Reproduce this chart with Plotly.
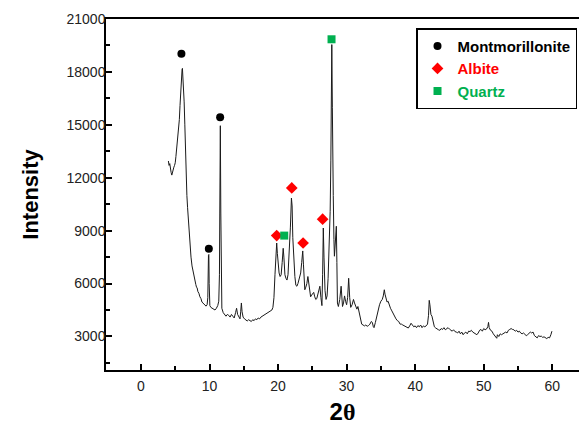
import plotly.graph_objects as go

# XRD pattern (2θ, intensity)
two_theta = [
    4.0, 4.1, 4.2, 4.3, 4.4, 4.5, 4.6, 4.7, 4.8, 4.9, 5.0, 5.1, 5.2, 5.3, 5.4, 5.5, 5.6, 5.7, 5.8, 5.9,
    6.0, 6.05, 6.1, 6.2, 6.3, 6.4, 6.5, 6.6, 6.7, 6.8, 6.9, 7.0, 7.15, 7.3, 7.45, 7.6, 7.8, 8.0, 8.1, 8.2,
    8.3, 8.45, 8.6, 8.75, 8.9, 9.05, 9.2, 9.35, 9.5, 9.65, 9.75, 9.85, 9.9, 9.95, 10.05, 10.2, 10.4, 10.6, 10.8, 11.0,
    11.2, 11.35, 11.45, 11.5, 11.58, 11.65, 11.72, 11.8, 12.0, 12.2, 12.4, 12.6, 12.8, 13.0, 13.2, 13.4, 13.6, 13.8, 13.95, 14.1,
    14.3, 14.45, 14.55, 14.65, 14.75, 14.9, 15.1, 15.3, 15.5, 15.7, 15.9, 16.1, 16.3, 16.5, 16.7, 16.9, 17.1, 17.3, 17.5, 17.7,
    17.9, 18.1, 18.3, 18.5, 18.7, 18.9, 19.1, 19.25, 19.4, 19.55, 19.7, 19.8, 19.9, 20.0, 20.15, 20.3, 20.45, 20.6, 20.75, 20.85,
    21.0, 21.15, 21.3, 21.45, 21.6, 21.8, 21.95, 22.05, 22.15, 22.3, 22.45, 22.6, 22.75, 22.9, 23.1, 23.3, 23.45, 23.6, 23.7, 23.8,
    23.9, 24.05, 24.2, 24.35, 24.45, 24.6, 24.75, 24.9, 25.05, 25.2, 25.35, 25.5, 25.65, 25.8, 25.95, 26.1, 26.25, 26.4, 26.5, 26.6,
    26.7, 26.85, 27.0, 27.15, 27.3, 27.45, 27.6, 27.7, 27.84, 27.92, 27.98, 28.05, 28.15, 28.22, 28.35, 28.5, 28.58, 28.66, 28.8, 29.0,
    29.2, 29.3, 29.4, 29.55, 29.7, 29.85, 30.0, 30.15, 30.3, 30.45, 30.6, 30.8, 31.0, 31.15, 31.3, 31.5, 31.65, 31.8, 32.0, 32.1,
    32.2, 32.4, 32.6, 32.8, 33.0, 33.2, 33.4, 33.6, 33.75, 33.9, 34.0, 34.2, 34.4, 34.6, 34.8, 35.0, 35.2, 35.35, 35.5, 35.6,
    35.75, 35.9, 36.05, 36.2, 36.4, 36.6, 36.8, 37.0, 37.2, 37.4, 37.6, 37.8, 38.0, 38.2, 38.4, 38.6, 38.8, 39.0, 39.2, 39.4,
    39.6, 39.8, 40.0, 40.2, 40.4, 40.6, 40.8, 41.0, 41.2, 41.4, 41.6, 41.8, 41.95, 42.05, 42.15, 42.3, 42.45, 42.6, 42.8, 43.0,
    43.2, 43.4, 43.6, 43.8, 44.0, 44.2, 44.4, 44.6, 44.8, 45.0, 45.2, 45.4, 45.6, 45.8, 46.0, 46.2, 46.4, 46.6, 46.8, 47.0,
    47.2, 47.4, 47.6, 47.8, 48.0, 48.2, 48.4, 48.6, 48.8, 49.0, 49.2, 49.4, 49.6, 49.8, 50.0, 50.2, 50.4, 50.6, 50.7, 50.8,
    51.0, 51.2, 51.4, 51.6, 51.8, 51.9, 52.0, 52.2, 52.4, 52.6, 52.8, 53.0, 53.2, 53.4, 53.6, 53.8, 54.0, 54.2, 54.4, 54.6,
    54.8, 55.0, 55.2, 55.4, 55.6, 55.8, 56.0, 56.2, 56.4, 56.6, 56.8, 57.0, 57.2, 57.4, 57.6, 57.8, 58.0, 58.2, 58.4, 58.6,
    58.8, 59.0, 59.2, 59.4, 59.6, 59.8, 59.95,
]
intensity = [
    12950, 12700, 12800, 12450, 12300, 12150, 12350, 12500, 12600, 12700, 12850, 13200, 13600, 14000, 14300, 14700, 15300, 16100, 17000, 17700,
    18150, 18200, 17900, 17100, 16300, 15000, 13300, 12100, 11000, 10300, 9600, 9000, 8100, 7500, 7000, 6650, 6250, 5950, 5800, 5750,
    5550, 5450, 5250, 5150, 4950, 4900, 4800, 4780, 4720, 4800, 5200, 7600, 7650, 6000, 4750, 4650, 4600, 4550, 4500, 4600,
    4750, 5000, 6500, 10000, 14950, 10000, 6000, 4600, 4350, 4250, 4150, 4250, 4200, 4100, 4250, 4150, 4050, 4350, 4600, 4250,
    4050, 4000, 4400, 4900, 4400, 4100, 4000, 3950, 3880, 3950, 3900, 3850, 3950, 3900, 4000, 3950, 4050, 4000, 4100, 4150,
    4200, 4250, 4300, 4350, 4400, 4450, 4500, 4650, 5200, 6500, 7800, 8300, 7700, 7000, 6600, 6400, 6500, 7200, 8000, 7500,
    6500, 6300, 6200, 6500, 7400, 9200, 10850, 10400, 8600, 7000, 6400, 5900, 5850, 6000, 6300, 6600, 7200, 7850, 7100, 6000,
    5650, 5800, 6000, 6400, 6100, 5400, 5250, 5350, 5450, 5500, 5250, 5100, 5150, 5400, 5700, 5850, 5200, 4750, 6500, 9150,
    7500, 5600, 5100, 5300, 6300, 8000, 10100, 13000, 19550, 16000, 14700, 11000, 8500, 7550, 8300, 9250, 7200, 4900, 4700, 5100,
    5850, 5200, 4700, 4900, 5300, 5000, 4800, 5200, 6300, 5200, 4650, 4800, 5100, 4900, 4750, 4550, 4700, 4400, 4200, 3800,
    3700, 3650, 3600, 3650, 3580, 3620, 3700, 3850, 3800, 3550, 3500, 3800, 4200, 4550, 4800, 5000, 5100, 5300, 5650, 5400,
    5200, 4950, 5000, 4750, 4600, 4450, 4300, 4100, 4000, 3900, 3850, 3700, 3700, 3650, 3600, 3550, 3500, 3480, 3600, 3750,
    3650, 3550, 3600, 3500, 3620, 3550, 3650, 3500, 3600, 3550, 3600, 3700, 4200, 5050, 4800, 4250, 4150, 3800, 3550, 3480,
    3400, 3380, 3350, 3450, 3400, 3500, 3380, 3450, 3500, 3420, 3350, 3300, 3380, 3280, 3250, 3200, 3300, 3150, 3250, 3100,
    3200, 3250, 3150, 3300, 3280, 3350, 3250, 3200, 3150, 3100, 3200, 3350, 3400, 3300, 3450, 3380, 3420, 3550, 3800, 3500,
    3350, 3300, 3150, 3050, 2950, 2900, 3100, 3000, 3150, 3100, 3150, 3200, 3250, 3200, 3350, 3400, 3450, 3400, 3380, 3300,
    3350, 3250, 3300, 3200, 3150, 3200, 3100, 3050, 3100, 3150, 3250, 3200, 3250, 3050, 3000, 2920, 3050, 3000, 3020, 2950,
    2980, 2900, 2880, 2950, 2920, 3100, 3300,
]

# phase markers
mont_x = [5.9, 9.9, 11.55]
mont_y = [19030, 7980, 15430]
albite_x = [19.8, 22.0, 23.65, 26.5]
albite_y = [8720, 11420, 8300, 9650]
quartz_x = [20.9, 27.8]
quartz_y = [8720, 19850]

x_ticks = [0, 10, 20, 30, 40, 50, 60]
y_ticks = [3000, 6000, 9000, 12000, 15000, 18000, 21000]

fig = go.Figure()
fig.add_trace(go.Scatter(x=two_theta, y=intensity, mode="lines",
                         line=dict(color="#1a1a1a", width=1), showlegend=False))
fig.add_trace(go.Scatter(x=mont_x, y=mont_y, mode="markers", name="<b>Montmorillonite</b>",
                         marker=dict(symbol="circle", size=8, color="black")))
fig.add_trace(go.Scatter(x=albite_x, y=albite_y, mode="markers",
                         name="<b><span style='color:#ff0000'>Albite</span></b>",
                         marker=dict(symbol="diamond", size=9, color="#ff0000")))
fig.add_trace(go.Scatter(x=quartz_x, y=quartz_y, mode="markers",
                         name="<b><span style='color:#00b050'>Quartz</span></b>",
                         marker=dict(symbol="square", size=8, color="#00b050")))

axis_common = dict(showgrid=False, zeroline=False, showline=True, linecolor="black", linewidth=1.5,
                   ticks="inside", ticklen=6, tickwidth=1.5, tickcolor="black",
                   automargin=False, tickformat="d",
                   tickfont=dict(family="Liberation Sans, Arial", size=14, color="#222"))

fig.update_xaxes(range=[-5.1, 63.9], tickvals=x_ticks, ticklabelstandoff=2, mirror=True,
                 minor=dict(dtick=5, tick0=0, ticks="inside", ticklen=4, tickwidth=1.5, tickcolor="black"),
                 title=dict(text="<b>2<span style='font-family:Liberation Serif'>θ</span></b>",
                            font=dict(family="Liberation Sans, Arial", size=24, color="black"), standoff=11),
                 **axis_common)
fig.update_yaxes(range=[1100, 21000], tickvals=y_ticks, ticklabelstandoff=-4, mirror=False,
                 minor=dict(dtick=1500, tick0=0, ticks="inside", ticklen=4, tickwidth=1.5, tickcolor="black"),
                 title=dict(text="<b>Intensity</b>",
                            font=dict(family="Liberation Sans, Arial", size=22, color="black"), standoff=22),
                 **axis_common)

fig.update_layout(
    width=579, height=427,
    margin=dict(l=106, r=0, t=19, b=57),
    paper_bgcolor="white", plot_bgcolor="white",
    legend=dict(x=0.9958, y=0.974, xanchor="right", yanchor="top",
                bgcolor="white", bordercolor="black", borderwidth=1.5,
                font=dict(family="Liberation Sans, Arial", size=15, color="black"),
                tracegroupgap=0, itemwidth=30),
)

# remove the default page margin so the figure fills the window exactly
fig.write_html("out.html", config={"displayModeBar": False},
               post_script="document.body.style.margin='0';document.body.style.overflow='hidden';")
